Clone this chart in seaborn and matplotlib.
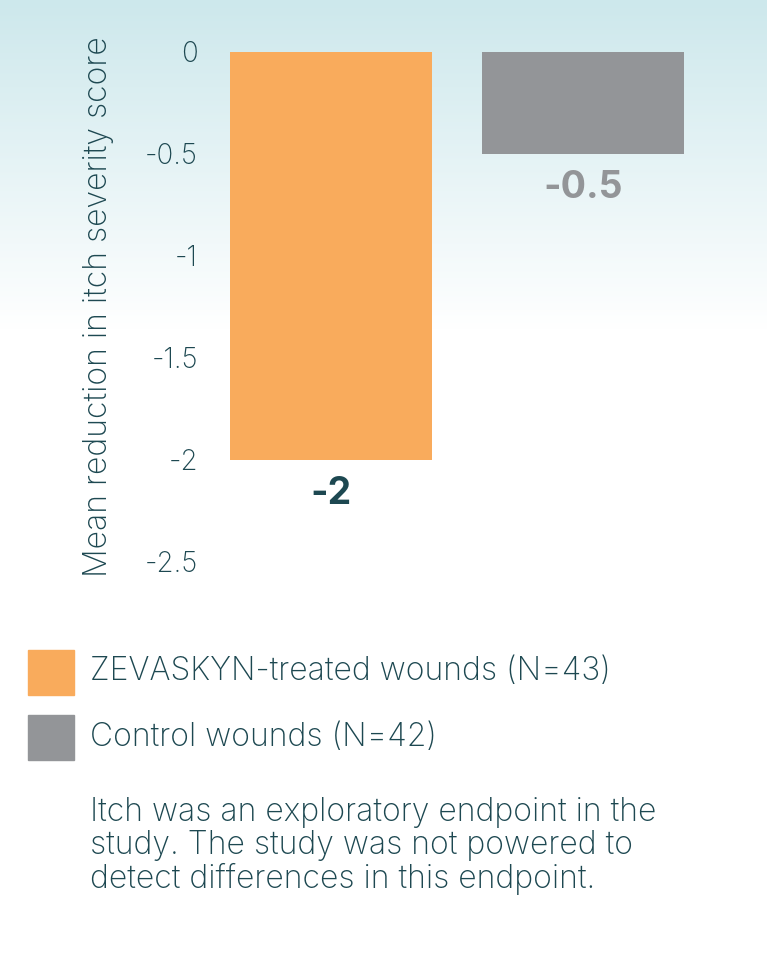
import numpy as np
import pandas as pd
import matplotlib
matplotlib.use("Agg")
import matplotlib.pyplot as plt
import seaborn as sns
from matplotlib.colors import LinearSegmentedColormap

groups = ["ZEVASKYN-treated wounds (N=43)", "Control wounds (N=42)"]
values = [-2.0, -0.5]
value_labels = ["-2", "-0.5"]
yticks = [0, -0.5, -1, -1.5, -2, -2.5]
ytick_labels = ["0", "-0.5", "-1", "-1.5", "-2", "-2.5"]
colors = ["#f9ab5c", "#939598"]
label_colors = ["#1d4851", "#939598"]
text_color = "#1d4851"

W, H = 767, 959
fig = plt.figure(figsize=(W/100, H/100), dpi=100)
plt.rcParams["font.family"] = "Inter"

bg = fig.add_axes([0, 0, 1, 1], zorder=-10)
bg.axis("off")
cmap = LinearSegmentedColormap.from_list("g", ["#cde8ec", "#ffffff"])
grad = np.ones((H, 1))
grad[:, 0] = np.clip(np.arange(H) / 330.0, 0, 1)
bg.imshow(grad, aspect="auto", cmap=cmap, extent=[0, 1, 0, 1], vmin=0, vmax=1)

ax = fig.add_axes([205/W, (H-562)/H, 504/W, 510/H])
ax.patch.set_alpha(0)
df = pd.DataFrame({"group": groups, "value": values})
sns.barplot(data=df, x="group", y="value", hue="group", palette=colors,
            width=0.8, ax=ax, legend=False, saturation=1)
ax.set_xlim(-0.5, 1.5)
ax.set_ylim(-2.5, 0)
ax.set_yticks(yticks)
ax.set_yticklabels(ytick_labels, fontsize=20, color=text_color, fontweight="light")
ax.tick_params(axis="y", length=0, pad=5)
ax.set_xticks([])
ax.set_xlabel("")
ax.set_ylabel("Mean reduction in itch severity score", fontsize=23, color=text_color,
              labelpad=22, fontweight="light")
for s in ax.spines.values():
    s.set_visible(False)
for i, (v, lab) in enumerate(zip(values, value_labels)):
    ax.text(i, v - 0.08, lab, ha="center", va="top", fontsize=27, fontweight="bold",
            color=label_colors[i], clip_on=False)

for y0, c, g in [(650, colors[0], groups[0]), (715, colors[1], groups[1])]:
    fig.patches.append(plt.Rectangle((28/W, (H-y0-45)/H), 46/W, 45/H,
                                     transform=fig.transFigure, color=c))
    fig.text(90/W, (H-y0-22)/H, g, fontsize=23, color=text_color, va="center",
             fontweight="light")

fig.text(90/W, (H-797)/H,
         "Itch was an exploratory endpoint in the\nstudy. The study was not powered to\ndetect differences in this endpoint.",
         fontsize=23, color=text_color, va="top", linespacing=1.08, fontweight="light")

fig.savefig("out.png", dpi=100)
